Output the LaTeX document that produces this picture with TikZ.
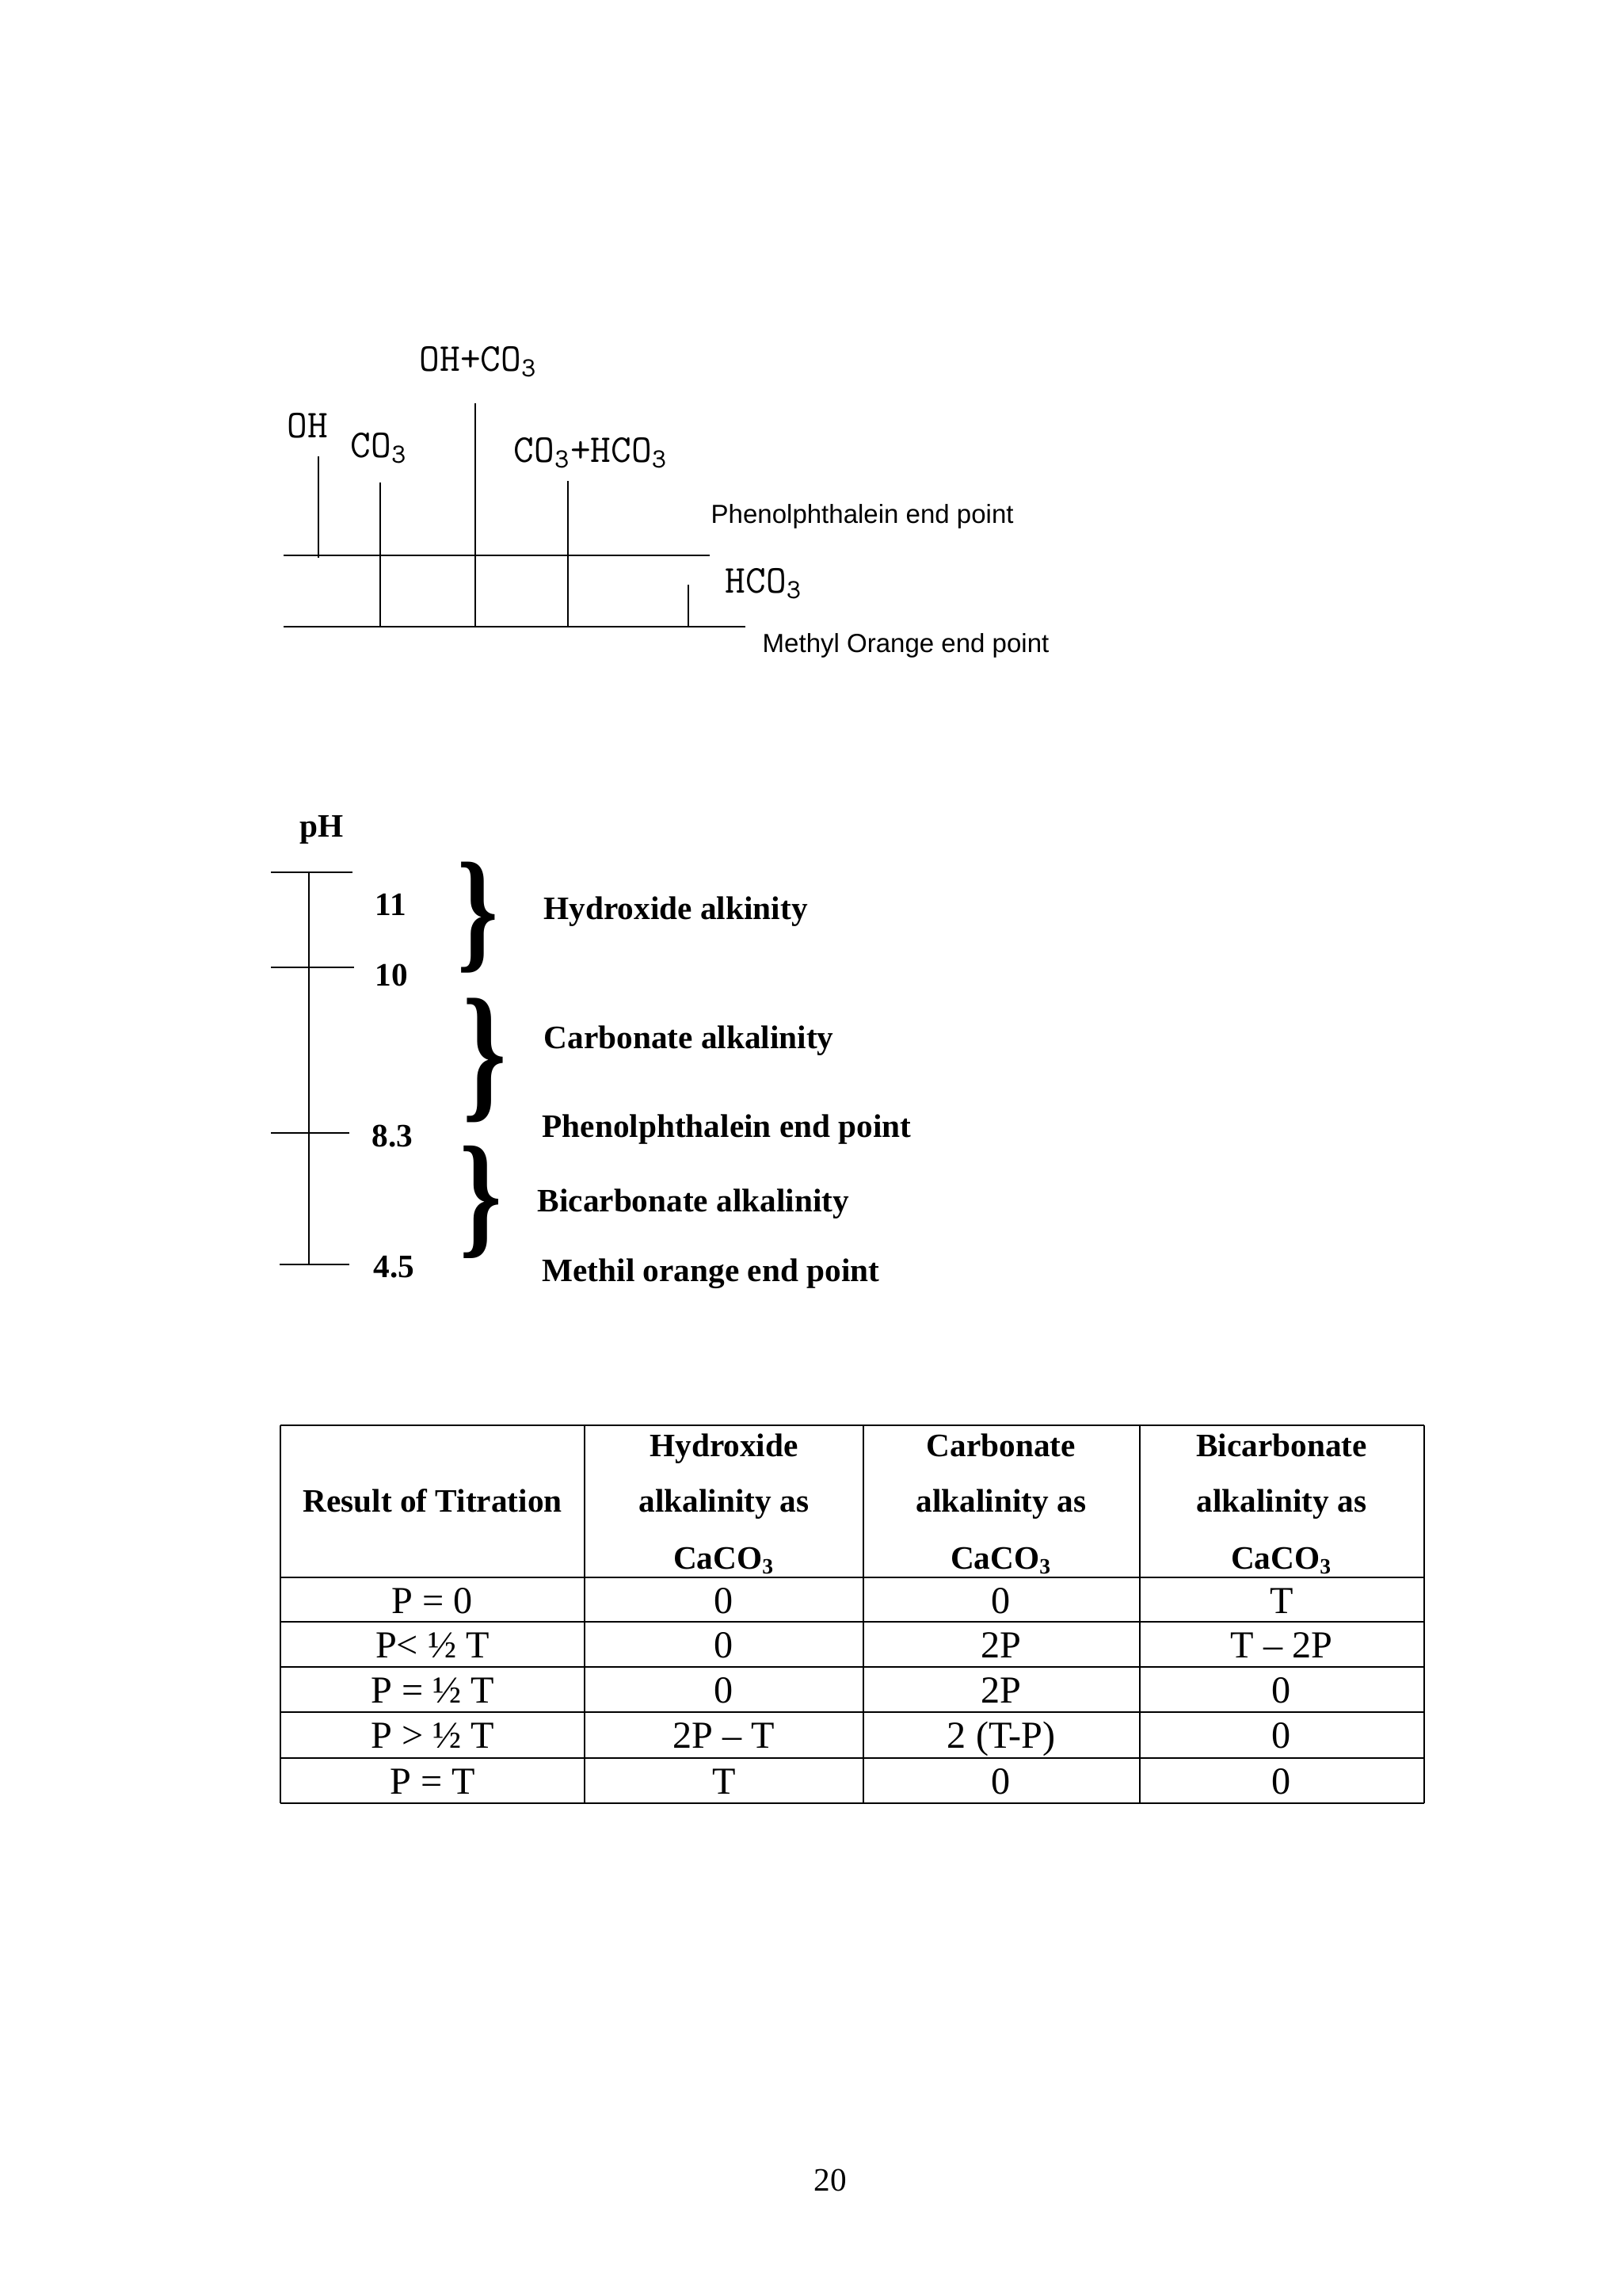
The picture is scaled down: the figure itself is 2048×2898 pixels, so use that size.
\documentclass[tikz,border=0pt]{standalone}
\usepackage{fontspec}
\setmainfont{Liberation Serif}
\newfontfamily\sansf{Liberation Sans}
\begin{document}
\begin{tikzpicture}[x=0.29065pt,y=-0.29065pt,
  lbl/.style={inner sep=0pt,anchor=base west},
  chem/.style={lbl,font=\ttfamily\fontsize{14.5}{16}\selectfont},
  sanslbl/.style={lbl,font=\sansf\fontsize{9.6}{11}\selectfont},
  boldlbl/.style={lbl,font=\bfseries\fontsize{12}{14}\selectfont},
  hline/.style={line width=0.8pt},
  vline/.style={line width=0.6pt},
  grid/.style={line width=0.6pt},
  cell/.style={inner sep=0pt,anchor=base,font=\fontsize{14}{16}\selectfont},
  head/.style={inner sep=0pt,anchor=base,font=\bfseries\fontsize{12}{14}\selectfont},
  bracebox/.style={inner sep=0pt,anchor=center}]
\useasboundingbox[fill=white] (0,0) rectangle (2048,2898);

% ---------- top diagram ----------
\coordinate (pL) at (358,701); \coordinate (pR) at (896,701);
\coordinate (mL) at (358,791); \coordinate (mR) at (941,791);
\draw[hline] (pL) -- (pR);
\draw[hline] (mL) -- (mR);
\draw[vline] (402,576) -- (402,704);
\draw[vline] (480,609) -- (480,791);
\draw[vline] (600,509) -- (600,791);
\draw[vline] (717,607) -- (717,791);
\draw[vline] (869,738) -- (869,791);

\node[chem] (tOH) at (362,552) {OH};
\node[chem] (tCO) at (442,577) {CO\textsubscript{3}};
\node[chem] (tOHCO) at (529,468) {OH+CO\textsubscript{3}};
\node[chem] (tCOHCO) at (648,583) {CO\textsubscript{3}+HCO\textsubscript{3}};
\node[chem] (tHCO) at (915,748) {HCO\textsubscript{3}};
\node[sanslbl] (tPhen) at (897,660) {Phenolphthalein end point};
\node[sanslbl] (tMeth) at (962,823) {Methyl Orange end point};

% ---------- pH scale ----------
\node[boldlbl] (pH) at (378,1056) {pH};
\draw[vline] (390,1101) -- (390,1596);
\draw[vline] (342,1101) -- (445,1101);
\draw[vline] (342,1221) -- (447,1221);
\draw[vline] (342,1430) -- (441,1430);
\draw[vline] (353,1596) -- (441,1596);
\node[boldlbl] (n11) at (473,1155) {11};
\node[boldlbl] (n10) at (473,1244) {10};
\node[boldlbl] (n83) at (469,1447) {8.3};
\node[boldlbl] (n45) at (471,1612) {4.5};

\node[bracebox] (br1) at (603,1158) {\resizebox*{15pt}{40.7pt}{\bfseries\}}};
\node[bracebox] (br2) at (612,1338) {\resizebox*{16pt}{45.6pt}{\bfseries\}}};
\node[bracebox] (br3) at (607,1517) {\resizebox*{15.5pt}{41.3pt}{\bfseries\}}};

\node[boldlbl] (lHyd) at (686,1160) {Hydroxide alkinity};
\node[boldlbl] (lCarb) at (686,1323) {Carbonate alkalinity};
\node[boldlbl] (lPhen) at (684,1435) {Phenolphthalein end point};
\node[boldlbl] (lBic) at (678,1529) {Bicarbonate alkalinity};
\node[boldlbl] (lMeth) at (684,1617) {Methil orange end point};

% ---------- table ----------
\foreach \yy in {1799,1991,2047,2104,2161,2219,2276}
  \draw[grid] (354,\yy) -- (1798,\yy);
\foreach \xx in {354,738,1090,1439,1798}
  \draw[grid] (\xx,1799) -- (\xx,2276);

\node[head] (h1) at (546,1908) {Result of Titration};
\node[head] (h2a) at (914,1838) {Hydroxide};
\node[head] (h2b) at (914,1908) {alkalinity as};
\node[head] (h2c) at (914,1980) {CaCO\textsubscript{3}};
\node[head] (h3a) at (1264,1838) {Carbonate};
\node[head] (h3b) at (1264,1908) {alkalinity as};
\node[head] (h3c) at (1264,1980) {CaCO\textsubscript{3}};
\node[head] (h4a) at (1618,1838) {Bicarbonate};
\node[head] (h4b) at (1618,1908) {alkalinity as};
\node[head] (h4c) at (1618,1980) {CaCO\textsubscript{3}};

\node[cell] (r1c1) at (546,2036) {P = 0};
\node[cell] (r1c2) at (914,2036) {0};
\node[cell] (r1c3) at (1264,2036) {0};
\node[cell] (r1c4) at (1618,2036) {T};

\node[cell] (r2c1) at (546,2092) {P< ½ T};
\node[cell] (r2c2) at (914,2092) {0};
\node[cell] (r2c3) at (1264,2092) {2P};
\node[cell] (r2c4) at (1618,2092) {T – 2P};

\node[cell] (r3c1) at (546,2149) {P = ½ T};
\node[cell] (r3c2) at (914,2149) {0};
\node[cell] (r3c3) at (1264,2149) {2P};
\node[cell] (r3c4) at (1618,2149) {0};

\node[cell] (r4c1) at (546,2206) {P > ½ T};
\node[cell] (r4c2) at (914,2206) {2P – T};
\node[cell] (r4c3) at (1264,2206) {2 (T-P)};
\node[cell] (r4c4) at (1618,2206) {0};

\node[cell] (r5c1) at (546,2264) {P = T};
\node[cell] (r5c2) at (914,2264) {T};
\node[cell] (r5c3) at (1264,2264) {0};
\node[cell] (r5c4) at (1618,2264) {0};

\node[cell,font=\fontsize{12}{14}\selectfont] (pg) at (1048,2765) {20};
\end{tikzpicture}
\end{document}
